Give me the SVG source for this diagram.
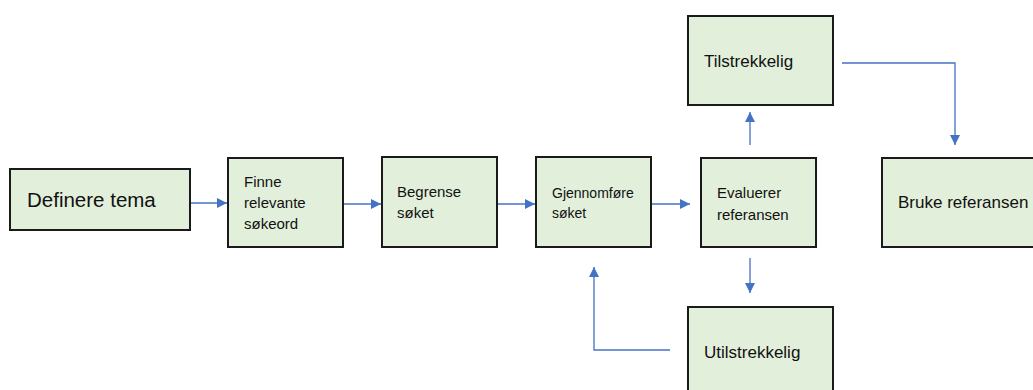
<svg xmlns="http://www.w3.org/2000/svg" width="1033" height="390" viewBox="0 0 1033 390">
<style>
.box{fill:#e2efda;stroke:#1a1a1a;stroke-width:2}
.t{font-family:"Liberation Sans",Arial,sans-serif;fill:#111}
.c{fill:none;stroke:#4472c4;stroke-width:1.3}
</style>
<defs>
<marker id="ah" viewBox="0 0 10 10" refX="10" refY="5" markerWidth="10" markerHeight="10" markerUnits="userSpaceOnUse" orient="auto">
<path d="M0,0 L10,5 L0,10 Z" fill="#4472c4"/>
</marker>
</defs>
<rect width="1033" height="390" fill="#fff"/>
<g id="connectors">
<path class="c" d="M190,203 H227" marker-end="url(#ah)"/>
<path class="c" d="M343,204 H381" marker-end="url(#ah)"/>
<path class="c" d="M497,204 H535" marker-end="url(#ah)"/>
<path class="c" d="M651,204 H690" marker-end="url(#ah)"/>
<path class="c" d="M750,145 V112" marker-end="url(#ah)"/>
<path class="c" d="M842,63 H955 V145" marker-end="url(#ah)"/>
<path class="c" d="M750,258 V293" marker-end="url(#ah)"/>
<path class="c" d="M670,350 H594 V267" marker-end="url(#ah)"/>
</g>
<g id="definere">
<rect class="box" x="10" y="169" width="180" height="61"/>
<text class="t" x="27" y="207" font-size="20.5">Definere tema</text>
</g>
<g id="finne">
<rect class="box" x="228" y="158" width="115" height="89"/>
<text class="t" x="244" y="187" font-size="15">Finne</text>
<text class="t" x="244" y="208" font-size="15">relevante</text>
<text class="t" x="244" y="229" font-size="15">søkeord</text>
</g>
<g id="begrense">
<rect class="box" x="382" y="157" width="115" height="90"/>
<text class="t" x="397" y="197" font-size="15">Begrense</text>
<text class="t" x="397" y="218" font-size="15">søket</text>
</g>
<g id="gjennomfore">
<rect class="box" x="536" y="157" width="115" height="90"/>
<text class="t" x="552" y="198" font-size="14">Gjennomføre</text>
<text class="t" x="552" y="218" font-size="14">søket</text>
</g>
<g id="evaluerer">
<rect class="box" x="701" y="158" width="115" height="89"/>
<text class="t" x="717" y="198" font-size="15">Evaluerer</text>
<text class="t" x="717" y="220" font-size="15">referansen</text>
</g>
<g id="tilstrekkelig">
<rect class="box" x="688" y="16" width="145" height="89"/>
<text class="t" x="704" y="67" font-size="17">Tilstrekkelig</text>
</g>
<g id="bruke">
<rect class="box" x="882" y="158" width="160" height="89"/>
<text class="t" x="898" y="208" font-size="17">Bruke referansen</text>
</g>
<g id="utilstrekkelig">
<rect class="box" x="688" y="307" width="145" height="95"/>
<text class="t" x="704" y="358" font-size="17">Utilstrekkelig</text>
</g>
</svg>
